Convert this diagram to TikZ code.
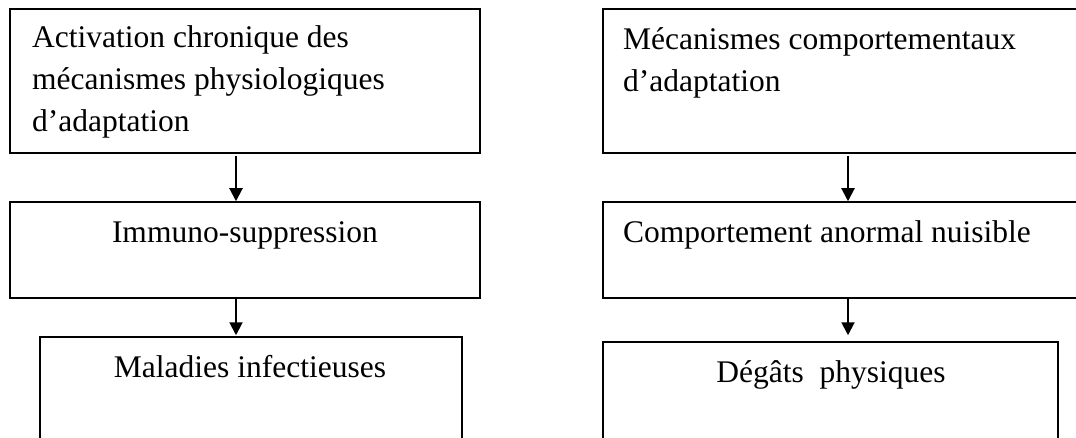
\documentclass[tikz,border=0pt]{standalone}
\usepackage{fontspec}
\setmainfont{Liberation Serif}
\usetikzlibrary{arrows.meta}
\tikzset{
  boxnode/.style={draw=black, line width=1.5pt, rectangle, inner sep=0pt},
  txt/.style={inner sep=0pt, font=\fontsize{31.5}{42}\selectfont},
  arr/.style={line width=2pt, -{Triangle[width=13pt,length=13pt]}}
}
\begin{document}
\begin{tikzpicture}[x=1pt,y=1pt]
\useasboundingbox (0,0) rectangle (1076,-438);
\clip (0,0) rectangle (1076,-438);
% left column boxes
\node[boxnode, minimum width=470pt, minimum height=144pt] (l1) at (245,-81) {};
\node[boxnode, minimum width=470pt, minimum height=96pt] (l2) at (245,-250) {};
\node[boxnode, minimum width=422pt, minimum height=123pt] (l3) at (251,-398.5) {};
% right column boxes
\node[boxnode, minimum width=490pt, minimum height=144pt] (r1) at (848,-81) {};
\node[boxnode, minimum width=490pt, minimum height=96pt] (r2) at (848,-250) {};
\node[boxnode, minimum width=455pt, minimum height=118pt] (r3) at (830.5,-401) {};
% texts
\node[txt, anchor=base west] (t1) at (32,-48) {\parbox[t]{440pt}{\raggedright Activation chronique des\\ mécanismes physiologiques\\ d’adaptation}};
\node[txt, anchor=base] (t2) at (245,-243) {Immuno-suppression};
\node[txt, anchor=base] (t3) at (250,-377) {Maladies infectieuses};
\node[txt, anchor=base west] (t4) at (623,-50) {\parbox[t]{440pt}{\raggedright Mécanismes comportementaux\\ d’adaptation}};
\node[txt, anchor=base west] (t5) at (623,-243) {Comportement anormal nuisible};
\node[txt, anchor=base] (t6) at (831,-382) {Dégâts\ \ physiques};
% arrows
\draw[arr] ([xshift=-9pt,yshift=-2pt]l1.south) -- ([xshift=-9pt]l2.north);
\draw[arr] ([xshift=-9pt,yshift=2pt]l2.south) -- ([xshift=-9pt,yshift=1pt]l2.south |- l3.north);
\draw[arr] ([yshift=-2pt]r1.south) -- (r2.north);
\draw[arr] (r2.south) -- ([yshift=6pt]r2.south |- r3.north);
\end{tikzpicture}
\end{document}
